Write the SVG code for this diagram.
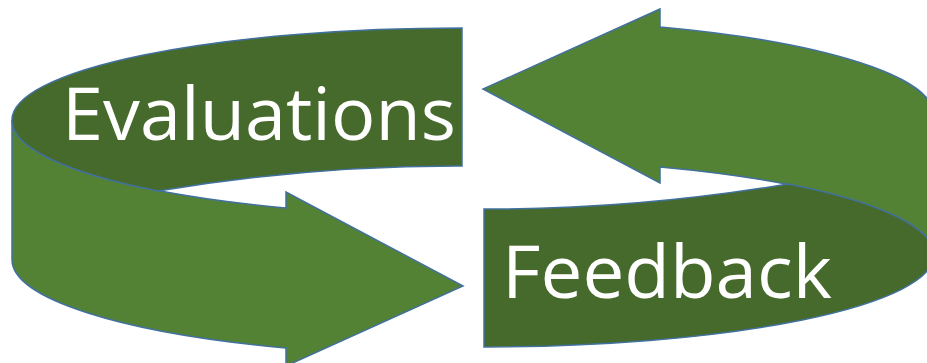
<svg xmlns="http://www.w3.org/2000/svg" width="927" height="363" viewBox="0 0 927 363">
  <style>
    .light { fill: #548235; stroke: #41719C; stroke-width: 1.5; stroke-linejoin: miter; }
    .dark { fill: #466A2C; stroke: #41719C; stroke-width: 1.5; }
    .lbl { fill: #FFFFFF; font-family: "Open Sans", "Noto Sans", "Liberation Sans", sans-serif; font-size: 74px; }
  </style>
  <rect width="927" height="363" fill="#FFFFFF"/>
  <defs>
    <g id="arrowShape">
      <path class="light" d="M12,120 L12,260 A450,96 0 0 0 286,348 L286,366 L463,286 L286,192 L286,208 A450,96 0 0 1 12,120 Z"/>
      <path class="dark" d="M462,28 A450,92 0 0 0 12,120 A450,96 0 0 0 158,191 Q310,165.5 462,166 Z"/>
    </g>
  </defs>
  <g id="connectors">
    <g id="evaluations-arrow">
      <use href="#arrowShape"/>
    </g>
    <g id="feedback-arrow">
      <use href="#arrowShape" transform="rotate(180 473 187.5)"/>
    </g>
  </g>
  <g id="node-evaluations">
    <text class="lbl" x="62" y="140" textLength="394" lengthAdjust="spacingAndGlyphs">Evaluations</text>
  </g>
  <g id="node-feedback">
    <text class="lbl" x="502" y="298" textLength="330" lengthAdjust="spacingAndGlyphs">Feedback</text>
  </g>
</svg>
